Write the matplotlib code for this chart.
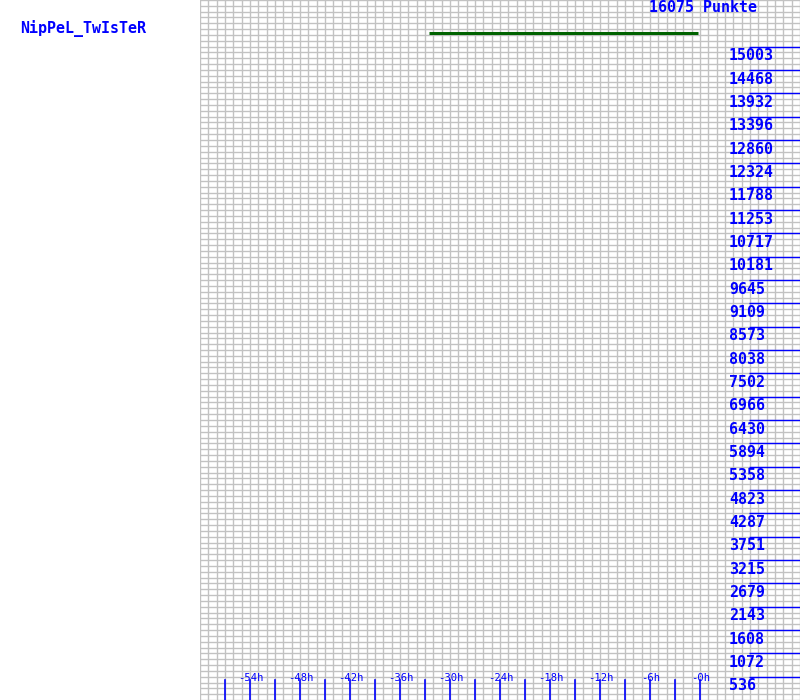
import matplotlib
matplotlib.use("Agg")
import matplotlib.pyplot as plt
import numpy as np

# ---- data ----
player = "NipPeL_TwIsTeR"
total_points = 16075
points_label = "16075 Punkte"
line_hours = [-32.5, -0.2]
line_values = [15324, 15324]
y_tick_labels = ["536", "1072", "1608", "2143", "2679", "3215", "3751", "4287",
                 "4823", "5358", "5894", "6430", "6966", "7502", "8038", "8573",
                 "9109", "9645", "10181", "10717", "11253", "11788", "12324",
                 "12860", "13396", "13932", "14468", "15003"]
x_tick_hours = [-54, -48, -42, -36, -30, -24, -18, -12, -6, 0]
x_tick_labels = ["-54h", "-48h", "-42h", "-36h", "-30h", "-24h", "-18h", "-12h", "-6h", "-0h"]
x_minor_hours = [-57, -51, -45, -39, -33, -27, -21, -15, -9, -3]

W, H = 800, 700
fig = plt.figure(figsize=(W / 100, H / 100), dpi=100)
ax = fig.add_axes([200 / W, 0, 600 / W, 1])
xmin, xmax = -60, 12
ax.set_xlim(xmin, xmax)
ax.set_ylim(0, total_points)
ax.set_axis_off()

blue = (0, 0, 1)
grid_c = (0.76, 0.76, 0.76)

# grid
step_y = total_points / 120
for gx in np.arange(xmin, xmax + 0.01, 1):
    ax.axvline(gx, color=grid_c, lw=1, zorder=1)
for gy in np.arange(0, 121) * step_y:
    ax.axhline(gy, color=grid_c, lw=1, zorder=1)

# right y ticks and labels
unit = total_points / 30
for k, lab in enumerate(y_tick_labels, start=1):
    yv = k * unit
    ax.plot([5.9, xmax], [yv, yv], color=blue, lw=1, zorder=3, solid_capstyle="butt")
    ypix = H - yv / total_points * H
    fig.text(729 / W, 1 - (ypix + 13.6) / H, lab, color=blue,
             family="DejaVu Sans Mono", weight="bold", fontsize=10.8,
             ha="left", va="baseline")

# bottom x ticks
tick_top = total_points * (20 / H)
for h in x_tick_hours + x_minor_hours:
    ax.plot([h, h], [0, tick_top], color=blue, lw=1.2, zorder=3)
for h, lab in zip(x_tick_hours, x_tick_labels):
    ax.text(h + 0.1, total_points * (1 - 680.7 / H), lab, color=blue,
            family="DejaVu Sans Mono", fontsize=7.6, ha="center", va="baseline",
            zorder=4)

# points line
ax.plot(line_hours, line_values, color=(0, 0.39, 0), lw=2.2, zorder=4,
        solid_capstyle="butt")

# texts
fig.text(20 / W, 1 - 33.3 / H, player, color=blue, family="DejaVu Sans Mono",
         weight="bold", fontsize=10.8, ha="left", va="baseline")
fig.text(649 / W, 1 - 11.5 / H, points_label, color=blue, family="DejaVu Sans Mono",
         weight="bold", fontsize=10.8, ha="left", va="baseline")

fig.savefig("out.png", dpi=100, facecolor="white")
